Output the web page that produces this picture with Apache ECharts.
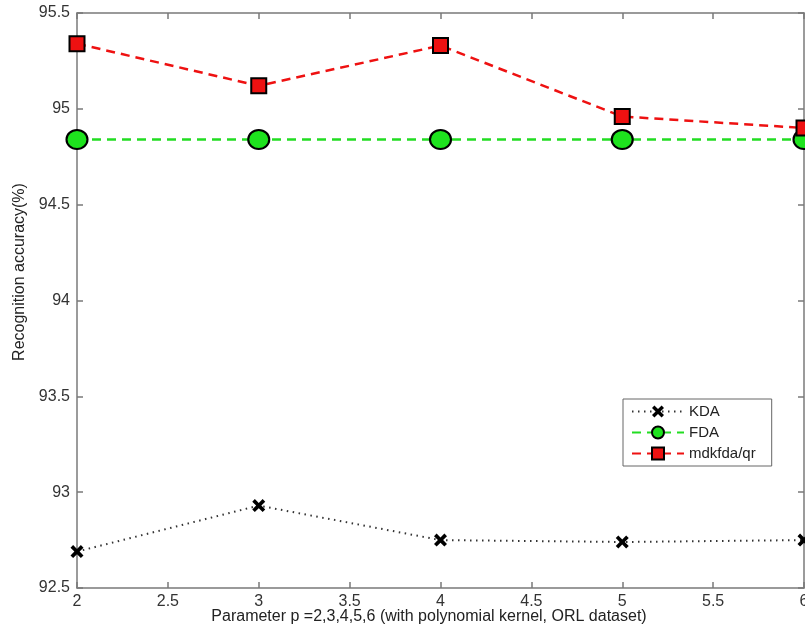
<!DOCTYPE html>
<html><head><meta charset="utf-8">
<script src="https://cdn.jsdelivr.net/npm/echarts@6/dist/echarts.min.js"></script>
<style>html,body{margin:0;padding:0;background:#fff}#c{width:805px;height:630px}</style>
</head><body><div id="c"></div>
<script>
const params = [2, 3, 4, 5, 6];
const kda = [92.69, 92.93, 92.75, 92.74, 92.75];
const fda = [94.84, 94.84, 94.84, 94.84, 94.84];
const mdkfda = [95.34, 95.12, 95.33, 94.96, 94.90];
const seriesNames = ['KDA', 'FDA', 'mdkfda/qr'];
const xTitle = 'Parameter p =2,3,4,5,6 (with polynomial kernel, ORL dataset)';
const yTitle = 'Recognition accuracy(%)';

const pair = (arr) => params.map((p, i) => [p, arr[i]]);
const xPath = 'path://M0,2 L2,0 L5,3 L8,0 L10,2 L7,5 L10,8 L8,10 L5,7 L2,10 L0,8 L3,5 Z';
const font = 'Liberation Sans, Arial, sans-serif';
const axisColor = '#7a7a7a';

const chart = echarts.init(document.getElementById('c'), null, {renderer: 'canvas'});
const baseAxis = {
  axisLine: {show: true, onZero: false, lineStyle: {color: axisColor, width: 1.5}},
  axisTick: {show: true, inside: true, length: 6, lineStyle: {color: axisColor, width: 1.5}},
  splitLine: {show: false}
};
chart.setOption({
  animation: false,
  grid: {left: 77, right: 1, top: 13, bottom: 42, containLabel: false, outerBoundsMode: 'none'},
  xAxis: [
    Object.assign({}, baseAxis, {
      type: 'value', min: 2, max: 6, interval: 0.5, position: 'bottom',
      axisLabel: {color: '#333', fontSize: 16, fontFamily: font, margin: 6}
    }),
    Object.assign({}, baseAxis, {
      type: 'value', min: 2, max: 6, interval: 0.5, position: 'top',
      axisLabel: {show: false}
    })
  ],
  yAxis: [
    Object.assign({}, baseAxis, {
      type: 'value', min: 92.5, max: 95.5, interval: 0.5, position: 'left',
      axisLabel: {color: '#333', fontSize: 16, fontFamily: font, margin: 7}
    }),
    Object.assign({}, baseAxis, {
      type: 'value', min: 92.5, max: 95.5, interval: 0.5, position: 'right',
      axisLabel: {show: false}
    })
  ],
  graphic: [
    {type: 'text', x: 429, y: 617,
     style: {text: xTitle, fill: '#222', font: '16px ' + font, textAlign: 'center', textVerticalAlign: 'middle'}},
    {type: 'text', x: 20, y: 272, rotation: Math.PI / 2,
     style: {text: yTitle, fill: '#222', font: '16px ' + font, textAlign: 'center', textVerticalAlign: 'middle'}}
  ],
  legend: {
    orient: 'vertical', left: 623, top: 399,
    backgroundColor: '#fff', borderColor: '#666', borderWidth: 1,
    padding: [5, 16, 5, 8], itemGap: 6, itemWidth: 52, itemHeight: 15,
    textStyle: {color: '#222', fontSize: 15, fontFamily: font},
    data: seriesNames
  },
  series: [
    {
      name: seriesNames[0], type: 'line', data: pair(kda), clip: false,
      symbol: xPath, symbolSize: 13,
      itemStyle: {color: '#000'},
      lineStyle: {color: '#333', width: 2, type: [1.5, 4.5]}
    },
    {
      name: seriesNames[1], type: 'line', data: pair(fda), clip: false,
      symbol: 'circle', symbolSize: [21, 19],
      itemStyle: {color: '#1ee31e', borderColor: '#000', borderWidth: 2},
      lineStyle: {color: '#22dd22', width: 2.5, type: [9, 6]}
    },
    {
      name: seriesNames[2], type: 'line', data: pair(mdkfda), clip: false,
      symbol: 'rect', symbolSize: 15,
      itemStyle: {color: '#ee1111', borderColor: '#000', borderWidth: 2},
      lineStyle: {color: '#ee1111', width: 2.5, type: [9, 6]}
    }
  ]
});
</script></body></html>
